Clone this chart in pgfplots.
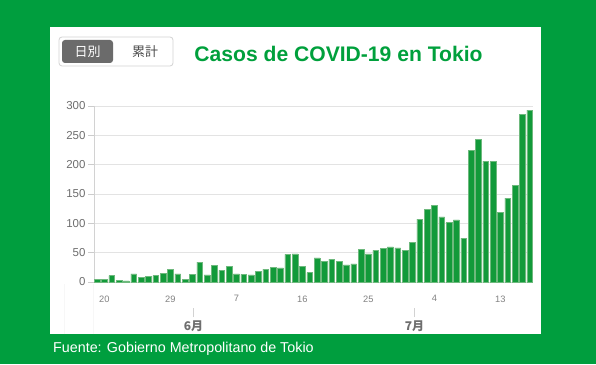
\documentclass[border=0pt]{standalone}
\usepackage{pgfplots}
\pgfplotsset{compat=1.18}
\usepackage{pgfplotstable}
\usepackage{fontspec}
\setmainfont{Liberation Sans}
\newfontfamily\cjk{Noto Sans CJK JP}
\definecolor{bggreen}{RGB}{0,158,62}
\definecolor{titlegreen}{RGB}{0,160,60}
\definecolor{barfill}{RGB}{18,154,58}
\definecolor{baredge}{RGB}{110,185,125}
\definecolor{ticklab}{RGB}{110,110,110}
\definecolor{xlab}{RGB}{130,130,130}
\pgfplotstableread{
idx cases
0 5
1 5
2 11
3 3
4 2
5 14
6 8
7 10
8 11
9 15
10 21
11 14
12 5
13 13
14 34
15 12
16 28
17 20
18 26
19 14
20 13
21 12
22 18
23 22
24 25
25 24
26 47
27 48
28 27
29 16
30 41
31 35
32 39
33 35
34 29
35 31
36 55
37 48
38 54
39 57
40 60
41 58
42 54
43 67
44 107
45 124
46 131
47 111
48 102
49 106
50 75
51 224
52 243
53 206
54 206
55 119
56 143
57 165
58 286
59 293
}\cases
\begin{document}
\begin{tikzpicture}[x=1pt,y=1pt]
\fill[bggreen] (0,0) rectangle (596,364);
\fill[white] (50,30) rectangle (541,337);
% buttons
\draw[gray!35, line width=0.8pt, rounded corners=3pt] (59,298) rectangle (173,327);
\fill[black!58, rounded corners=3pt] (62,301) rectangle (113,324);
\node[text=white, font=\cjk\fontsize{13}{15}\selectfont] at (87.5,312.5) {日別};
\node[text=black!70, font=\cjk\fontsize{13}{15}\selectfont] at (145,312.5) {累計};
% title
\node[text=titlegreen, font=\bfseries\fontsize{21.1}{24}\selectfont] at (338.5,310.5) {Casos de COVID-19 en Tokio};
% faint separators
\draw[gray!6, line width=0.6pt] (64,30) -- (64,80);
\draw[gray!6, line width=0.6pt] (93,30) -- (93,80);
\begin{axis}[
  at={(94pt,82pt)}, anchor=south west,
  scale only axis, width=439pt, height=176pt,
  xmin=-0.41, xmax=59.45, ymin=0, ymax=300,
  axis lines*=left,
  axis line style={draw=gray!35, line width=0.8pt},
  ytick={0,50,...,300},
  xtick={1,10,19,28,37,46,55},
  xticklabels={20,29,7,16,25,4,13},
  ymajorgrids, grid style={draw=gray!22, line width=0.8pt},
  tick align=outside,
  ytick style={draw=gray!40, line width=0.8pt},
  major tick length=6pt,
  xtick style={draw=none},
  /pgf/number format/assume math mode=true,
  yticklabel style={font=\fontsize{11.5}{13}\selectfont, text=ticklab, xshift=1pt},
  xticklabel style={font=\fontsize{9.3}{11}\selectfont, text=xlab, yshift=-4pt},
  clip=false,
]
\addplot[ybar, bar width=5.8pt, bar shift=0pt, fill=barfill, draw=baredge, line width=0.5pt] table[x=idx, y=cases] {\cases};
\end{axis}
% month ticks
\draw[gray!35, line width=0.8pt] (193,47) -- (193,56);
\draw[gray!35, line width=0.8pt] (414,47) -- (414,56);
\node[text=ticklab, font=\cjk\bfseries\fontsize{12}{14}\selectfont] at (193.5,38) {6月};
\node[text=ticklab, font=\cjk\bfseries\fontsize{12}{14}\selectfont] at (414.5,38) {7月};
% footer
\node[anchor=west, inner sep=0pt, text=white, font=\fontsize{14.3}{16}\selectfont] at (53,15) {Fuente: Gobierno Metropolitano de Tokio};
\end{tikzpicture}
\end{document}
